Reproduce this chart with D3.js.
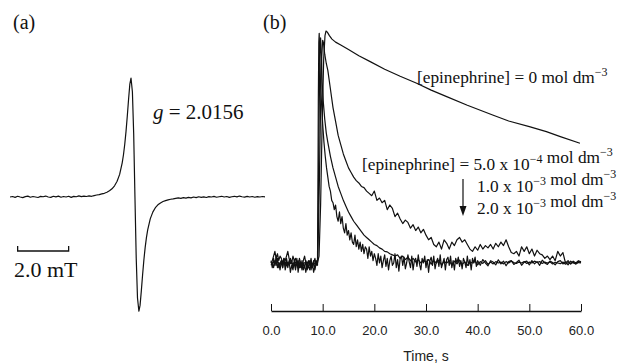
<!DOCTYPE html>
<html>
<head>
<meta charset="utf-8">
<script src="https://cdn.jsdelivr.net/npm/d3@7"></script>
<style>
  body { margin: 0; background: #fff; }
  .serif { font-family: "Liberation Serif", "Times New Roman", serif; fill: #111; }
  .sans { font-family: "Liberation Sans", Arial, sans-serif; fill: #222; }
  .trace { fill: none; stroke: #111; stroke-width: 1.2; stroke-linejoin: round; }
</style>
</head>
<body>
<svg id="chart" width="620" height="363"></svg>
<script>
// ---- (a) EPR spectrum, field in mT relative to line centre ----
// baseline left of the line, B = -4.9 .. -1.6 (step 0.1)
const eprLeftWing = [
  0.0, 0.004, -0.003, 0.006, 0.0, -0.005, 0.003, 0.007, -0.002, 0.004,
  0.0, -0.004, 0.005, 0.002, 0.008, 0.0, -0.003, 0.006, 0.001, 0.007,
  -0.002, 0.004, 0.0, 0.006, -0.003, 0.005, 0.002, 0.009, 0.003, 0.008,
  0.004, 0.01, 0.006, 0.012
];
// the derivative line itself [B, signal]
const eprCore = [
  [-1.5, 0.017], [-1.4, 0.02], [-1.3, 0.026], [-1.2, 0.031], [-1.1, 0.04],
  [-1.0, 0.052], [-0.9, 0.069], [-0.8, 0.094], [-0.7, 0.132], [-0.6, 0.19],
  [-0.5, 0.287], [-0.45, 0.355], [-0.4, 0.443], [-0.35, 0.551], [-0.3, 0.681],
  [-0.25, 0.822], [-0.2, 0.949], [-0.155, 1.0], [-0.1, 0.884], [-0.05, 0.535],
  [0, 0], [0.05, -0.514], [0.1, -0.849], [0.155, -0.96], [0.2, -0.911],
  [0.25, -0.789], [0.3, -0.654], [0.35, -0.529], [0.4, -0.425], [0.45, -0.342],
  [0.5, -0.276], [0.6, -0.184], [0.7, -0.127], [0.8, -0.09], [0.9, -0.066],
  [1.0, -0.05], [1.1, -0.038], [1.2, -0.03], [1.3, -0.024], [1.4, -0.019], [1.5, -0.016]
];
// baseline right of the line, B = 1.6 .. 5.1 (step 0.1)
const eprRightWing = [
  -0.012, -0.008, -0.011, -0.005, -0.009, -0.003, -0.007, 0.0, -0.005, 0.002,
  -0.003, 0.001, -0.004, 0.003, 0.0, 0.005, -0.002, 0.002, 0.006, 0.0,
  0.004, -0.003, 0.002, 0.006, 0.001, 0.008, 0.002, -0.001, 0.005, 0.0,
  0.004, -0.002, 0.003, 0.0, 0.004, 0.001
];
const fieldDomain = [-4.9, 5.1];
const scaleBarMT = 2.0;

// ---- (b) decay curves, time in s ----
const timeTicks = [0, 10, 20, 30, 40, 50, 60];

// [epinephrine] = 0
const c0 = [
  [0, 0], [1, 0.005], [2, -0.005], [3, 0.003], [4, -0.004], [5, 0.005], [6, -0.003],
  [7, 0.004], [8, -0.004], [9, 0.002], [9.3, 0.03], [9.6, 0.25], [9.9, 0.6],
  [10.2, 0.88], [10.45, 0.98], [10.65, 1.0], [10.9, 0.995], [11.3, 0.98], [11.8, 0.965],
  [12.5, 0.952], [13.5, 0.94], [15, 0.92], [17, 0.893], [19.2, 0.868], [22, 0.835],
  [25, 0.805], [28.2, 0.775], [31, 0.745], [34, 0.717], [38, 0.68], [42.9, 0.638],
  [46, 0.612], [50, 0.588], [53.3, 0.566], [56, 0.545], [59.8, 0.516]
];

// 5.0e-4: pre-trigger (0..9 s, step 0.25), peak, tail (19..60 s, step 0.5)
const c1Base = [
  0.0, 0.01, 0.03, 0.05, 0.02, 0.04, 0.01, 0.03, 0.02, 0.0,
  0.02, 0.01, 0.03, 0.05, 0.02, 0.0, 0.01, -0.02, 0.0, -0.03,
  0.01, -0.02, 0.02, 0.0, -0.02, 0.01, 0.03, 0.0, -0.02, 0.01,
  -0.01, 0.02, -0.02, 0.0, 0.02, -0.01, 0.01
];
const c1Peak = [
  [9.2, 0.15], [9.4, 0.4], [9.6, 0.68], [9.8, 0.88], [10.0, 0.96], [10.15, 0.95],
  [10.4, 0.9], [10.7, 0.86], [11.0, 0.83], [11.5, 0.75], [12.0, 0.67], [12.5, 0.61],
  [13.0, 0.55], [13.5, 0.51], [14.0, 0.47], [14.5, 0.44], [15.0, 0.41], [15.5, 0.39],
  [16.0, 0.37], [16.5, 0.355], [17.0, 0.345], [17.5, 0.33], [18.0, 0.325], [18.5, 0.31]
];
const c1Tail = [
  0.30, 0.29, 0.31, 0.27, 0.28, 0.26, 0.27, 0.23, 0.25, 0.235,
  0.20, 0.215, 0.19, 0.17, 0.185, 0.175, 0.15, 0.165, 0.14, 0.155,
  0.13, 0.145, 0.12, 0.10, 0.11, 0.08, 0.07, 0.09, 0.06, 0.10,
  0.085, 0.06, 0.09, 0.075, 0.10, 0.11, 0.09, 0.10, 0.08, 0.06,
  0.05, 0.07, 0.055, 0.08, 0.06, 0.075, 0.065, 0.08, 0.06, 0.085,
  0.07, 0.09, 0.075, 0.10, 0.07, 0.045, 0.04, 0.05, 0.03, 0.07,
  0.05, 0.07, 0.04, 0.06, 0.03, 0.055, 0.04, 0.035, 0.02, 0.03,
  0.015, 0.03, 0.01, 0.05, 0.03, 0.045, 0.0, 0.01, -0.005, 0.008,
  0.0, 0.01, 0.005
];

// 1.0e-3: pre-trigger, peak, tail (24..60 s, step 0.5)
const c2Base = [
  -0.01, 0.0, -0.02, 0.01, -0.01, 0.02, -0.02, 0.0, 0.01, -0.02,
  0.01, -0.01, 0.02, -0.01, 0.0, 0.02, 0.0, 0.03, 0.01, 0.02,
  -0.01, 0.01, -0.02, 0.0, -0.03, 0.0, -0.02, 0.01, -0.03, -0.01,
  -0.03, 0.0, -0.02, 0.01, -0.03, 0.0, -0.01
];
const c2Peak = [
  [9.15, 0.25], [9.3, 0.6], [9.45, 0.88], [9.6, 0.97], [9.75, 0.9], [9.9, 0.78],
  [10.1, 0.7], [10.4, 0.62], [10.7, 0.56], [11.0, 0.52], [11.5, 0.46], [12.0, 0.41],
  [12.5, 0.37], [13.0, 0.33], [13.5, 0.3], [14.0, 0.27], [14.5, 0.245], [15.0, 0.22],
  [15.5, 0.2], [16.0, 0.18], [16.5, 0.165], [17.0, 0.15], [17.5, 0.135], [18.0, 0.12],
  [18.5, 0.11], [19.0, 0.1], [19.5, 0.09], [20.0, 0.08], [20.5, 0.075], [21.0, 0.065],
  [21.5, 0.06], [22.0, 0.05], [22.5, 0.048], [23.0, 0.04], [23.5, 0.035]
];
const c2Tail = [
  0.03, 0.035, 0.02, 0.03, 0.015, 0.025, 0.01, 0.02, 0.005, 0.015,
  0.0, 0.012, 0.003, 0.015, -0.005, 0.01, 0.0, 0.012, -0.008, 0.006,
  0.0, 0.01, -0.01, 0.008, -0.004, 0.012, -0.006, 0.005, -0.01, 0.004,
  0.0, 0.008, -0.008, 0.006, -0.002, 0.01, -0.006, 0.004, -0.004, 0.006,
  0.0, 0.004, -0.004, 0.006, 0.0, 0.008, 0.002, -0.002, 0.004, 0.0,
  0.006, -0.002, 0.004, 0.0, 0.008, 0.002, 0.006, -0.002, 0.004, 0.0,
  0.005, -0.004, 0.003, 0.0, -0.003, 0.004, -0.005, 0.002, -0.002, 0.003,
  -0.004, 0.002, 0.0
];

// 2.0e-3: pre-trigger, peak, noisy tail
// (12..20 s step 0.25, 20.25..40 s step 0.25, 40.5..60 s step 0.5)
const c3Base = [
  0.01, -0.02, 0.02, -0.01, 0.03, -0.02, 0.0, -0.03, 0.01, -0.02,
  0.02, -0.03, 0.0, -0.02, 0.01, -0.04, -0.01, -0.03, 0.01, -0.02,
  0.02, -0.04, 0.0, -0.02, 0.01, -0.03, -0.01, -0.04, 0.0, -0.02,
  0.01, -0.03, 0.0, -0.04, -0.01, 0.01, 0.0
];
const c3Peak = [
  [9.08, 0.3], [9.16, 0.7], [9.25, 0.95], [9.33, 0.99], [9.45, 0.88], [9.6, 0.76],
  [9.8, 0.68], [10.0, 0.6], [10.25, 0.52], [10.5, 0.46], [10.75, 0.41], [11.0, 0.37],
  [11.25, 0.33], [11.5, 0.31], [11.75, 0.27]
];
const c3TailA = [
  0.26, 0.23, 0.25, 0.2, 0.18, 0.22, 0.17, 0.2, 0.15, 0.13,
  0.17, 0.12, 0.14, 0.1, 0.13, 0.09, 0.08, 0.12, 0.07, 0.1,
  0.06, 0.09, 0.05, 0.08, 0.04, 0.07, 0.06, 0.02, 0.07, 0.03,
  0.05, 0.01, 0.04
];
const c3TailB = [
  0.02, -0.01, 0.04, 0.0, 0.03, -0.02, 0.01, 0.035, -0.015, 0.02,
  -0.03, 0.01, 0.03, -0.01, 0.0, 0.04, -0.02, 0.015, -0.035, 0.02,
  0.03, -0.01, 0.025, -0.025, 0.0, 0.035, 0.005, -0.02, 0.03, -0.03,
  0.01, 0.02, -0.015, 0.035, -0.005, -0.03, 0.02, 0.0, 0.03, -0.02,
  0.015, -0.04, 0.01, 0.025, -0.01, 0.03, -0.025, 0.005, 0.02, -0.015,
  0.035, -0.02, 0.0, 0.02, -0.03, 0.015, 0.025, -0.01, 0.03, -0.02,
  0.01, -0.03, 0.02, 0.0, 0.025, -0.015, 0.01, -0.025, 0.02, 0.005,
  -0.02, 0.03, -0.01, 0.015, -0.03, 0.02, 0.0, 0.025, -0.015, 0.01
];
const c3TailC = [
  -0.01, 0.015, 0.0, -0.012, 0.01, 0.004, -0.008, 0.014, -0.004, 0.008,
  -0.012, 0.006, 0.01, -0.006, 0.002, 0.012, -0.01, 0.004, 0.008, -0.008,
  0.01, -0.004, 0.006, -0.01, 0.012, 0.0, -0.006, 0.008, 0.002, -0.008,
  0.006, 0.01, -0.004, 0.004, -0.008, 0.008, 0.0, -0.004, 0.006, 0.002
];

// labels: segments, superscripts flagged
const concLabels = [
  { x: 417, y: 83, segs: [['[epinephrine] = 0 mol dm'], ['\u22123', 1]] },
  { x: 362, y: 170, segs: [['[epinephrine] = 5.0 x 10'], ['\u22124', 1], [' mol dm'], ['\u22123', 1]] },
  { x: 477, y: 192, segs: [['1.0 x 10'], ['\u22123', 1], [' mol dm'], ['\u22123', 1]] },
  { x: 477, y: 214, segs: [['2.0 x 10'], ['\u22123', 1], [' mol dm'], ['\u22123', 1]] }
];

const grid = (t0, step, vals) => vals.map((v, i) => [t0 + i * step, v]);

const eprData = [
  ...grid(-4.9, 0.1, eprLeftWing),
  ...eprCore,
  ...grid(1.6, 0.1, eprRightWing)
];
const curves = [
  c0,
  [...grid(0, 0.25, c1Base), ...c1Peak, ...grid(19, 0.5, c1Tail)],
  [...grid(0, 0.25, c2Base), ...c2Peak, ...grid(24, 0.5, c2Tail)],
  [...grid(0, 0.25, c3Base), ...c3Peak, ...grid(12, 0.25, c3TailA),
   ...grid(20.25, 0.25, c3TailB), ...grid(40.5, 0.5, c3TailC)]
];

const svg = d3.select('#chart');

// ---------- panel (a) ----------
const xA = d3.scaleLinear().domain(fieldDomain).range([10, 265]);
const yA = d3.scaleLinear().domain([-1, 1]).range([316, 78]);

svg.append('path')
  .datum(eprData)
  .attr('class', 'trace')
  .attr('d', d3.line().x(d => xA(d[0])).y(d => yA(d[1])));

// scale bar
const barY = 251;
const bx0 = xA(fieldDomain[0] + 0.3), bx1 = xA(fieldDomain[0] + 0.3 + scaleBarMT);
svg.append('path')
  .attr('d', `M${bx0},${barY - 5}V${barY}H${bx1}V${barY - 5}`)
  .attr('fill', 'none')
  .attr('stroke', '#111')
  .attr('stroke-width', 1.3);

svg.append('text').attr('class', 'serif').attr('x', 14).attr('y', 277)
  .attr('font-size', 22).text(scaleBarMT.toFixed(1) + ' mT');

const gText = svg.append('text').attr('class', 'serif').attr('x', 153).attr('y', 119)
  .attr('font-size', 21);
gText.append('tspan').attr('font-style', 'italic').text('g');
gText.append('tspan').text(' = 2.0156');

svg.append('text').attr('class', 'serif').attr('x', 13).attr('y', 29)
  .attr('font-size', 20).text('(a)');

// ---------- panel (b) ----------
const xB = d3.scaleLinear().domain([0, 60]).range([271, 581]);
const yB = d3.scaleLinear().domain([0, 1]).range([263, 31]);
const axisY = 311;

const line = d3.line().x(d => xB(d[0])).y(d => yB(d[1]));
svg.append('g')
  .selectAll('path')
  .data(curves)
  .join('path')
  .attr('class', 'trace')
  .attr('d', line);

const axis = svg.append('g')
  .attr('transform', `translate(0,${axisY})`)
  .call(d3.axisBottom(xB)
    .tickValues(timeTicks)
    .tickFormat(d3.format('.1f'))
    .tickSize(-7)
    .tickSizeOuter(0)
    .tickPadding(15));
axis.select('.domain').attr('stroke', '#111').attr('stroke-width', 1.4);
axis.selectAll('.tick line').attr('stroke', '#111').attr('stroke-width', 1);
axis.selectAll('.tick text')
  .attr('class', 'sans')
  .attr('font-size', 13)
  .attr('fill', '#222');

svg.append('text').attr('class', 'sans')
  .attr('x', (xB(0) + xB(60)) / 2).attr('y', 361)
  .attr('text-anchor', 'middle').attr('font-size', 14)
  .text('Time, s');

svg.append('text').attr('class', 'serif').attr('x', 263).attr('y', 29)
  .attr('font-size', 20).text('(b)');

// concentration labels
concLabels.forEach(l => {
  const t = svg.append('text').attr('class', 'serif')
    .attr('x', l.x).attr('y', l.y).attr('font-size', 17.3);
  l.segs.forEach(([s, sup]) => {
    t.append('tspan')
      .attr('font-size', sup ? 12 : 17.3)
      .attr('dy', sup ? -7 : 0)
      .text(s);
    if (sup) t.append('tspan').attr('dy', 7).text('');
  });
});

// arrow between the series labels
svg.append('line')
  .attr('x1', 463).attr('x2', 463).attr('y1', 179).attr('y2', 207)
  .attr('stroke', '#111').attr('stroke-width', 1.2);
svg.append('path')
  .attr('d', 'M459.5,206L466.5,206L463,216Z')
  .attr('fill', '#111');
</script>
</body>
</html>
